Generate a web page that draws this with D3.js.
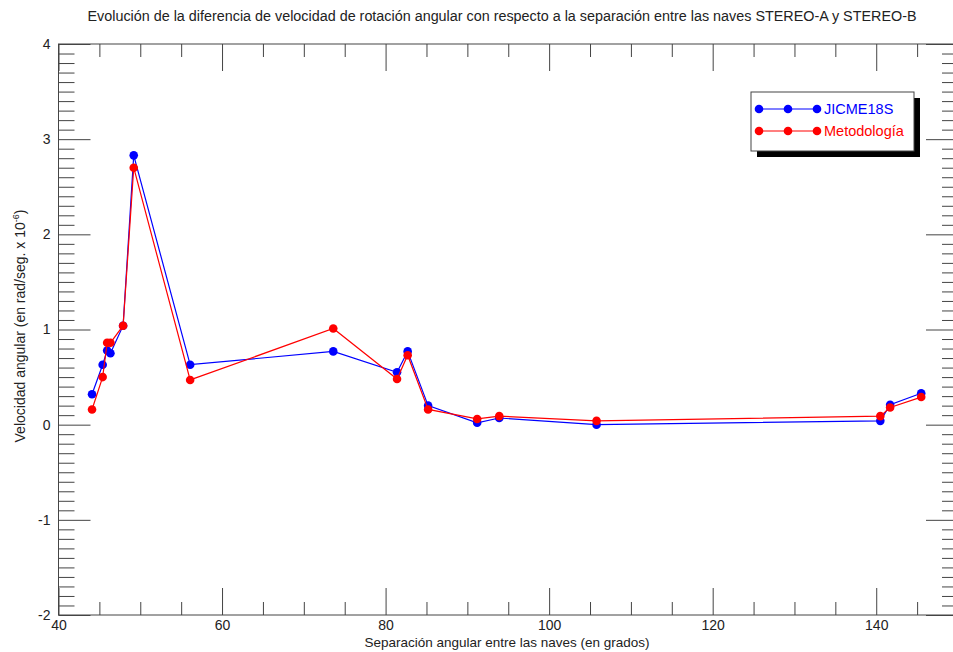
<!DOCTYPE html>
<html>
<head>
<meta charset="utf-8">
<script src="https://cdn.jsdelivr.net/npm/d3@7"></script>
<style>
  body { margin: 0; background: #fff; }
  svg { font-family: "Liberation Sans", Arial, Helvetica, sans-serif; }
</style>
</head>
<body>
<div id="chart"></div>
<script>
// separación angular (grados)
const separacion = [44.1, 45.4, 45.95, 46.35, 47.9, 49.2, 56.1, 73.6, 81.4, 82.7, 85.2, 91.2, 93.9, 105.8, 140.5, 141.7, 145.5];
// velocidad angular x 10^-6
const jicme18s   = [0.32, 0.63, 0.78, 0.75, 1.04, 2.83, 0.63, 0.77, 0.55, 0.77, 0.20, 0.02, 0.07, 0.00, 0.04, 0.21, 0.33];
const metodologia = [0.16, 0.50, 0.86, 0.86, 1.04, 2.70, 0.47, 1.01, 0.48, 0.73, 0.16, 0.06, 0.09, 0.04, 0.09, 0.18, 0.29];

const seriesNames = ["JICME18S", "Metodología"];
const seriesColors = ["#0000ff", "#ff0000"];
const xMajor = [40, 60, 80, 100, 120, 140];
const yMajor = [-2, -1, 0, 1, 2, 3, 4];

const width = 953, height = 652;
const margin = { top: 44, left: 58.5, right: -5, bottom: 37 };
const plotW = width - margin.left - margin.right;
const plotH = height - margin.top - margin.bottom;

const svg = d3.select("#chart").append("svg").attr("width", width).attr("height", height);

const x = d3.scaleLinear().domain([40, 150]).range([margin.left, margin.left + plotW]);
const y = d3.scaleLinear().domain([-2, 4]).range([margin.top + plotH, margin.top]);

const axisColor = "#444";
const xMinor = d3.range(40, 151, 5).filter(v => !xMajor.includes(v));
const yMinor = d3.range(-20, 41, 1).map(v => v / 10).filter(v => !yMajor.includes(v));
const plain = d => String(d);

function styleAxis(g) {
    g.select(".domain").remove();
    g.selectAll(".tick line").attr("stroke", axisColor).attr("stroke-width", 1);
    g.selectAll(".tick text").attr("fill", "#222").style("font-size", "14px");
}

// bottom
svg.append("g").attr("transform", `translate(0,${y(-2)})`)
    .call(d3.axisBottom(x).tickValues(xMajor).tickSizeInner(-27).tickSizeOuter(0).tickPadding(5).tickFormat(plain))
    .call(styleAxis);
svg.append("g").attr("transform", `translate(0,${y(-2)})`)
    .call(d3.axisBottom(x).tickValues(xMinor).tickSizeInner(-13).tickSizeOuter(0).tickFormat(""))
    .call(styleAxis);
// top
svg.append("g").attr("transform", `translate(0,${y(4)})`)
    .call(d3.axisTop(x).tickValues(xMajor).tickSizeInner(-27).tickSizeOuter(0).tickFormat(""))
    .call(styleAxis);
svg.append("g").attr("transform", `translate(0,${y(4)})`)
    .call(d3.axisTop(x).tickValues(xMinor).tickSizeInner(-13).tickSizeOuter(0).tickFormat(""))
    .call(styleAxis);
// left
svg.append("g").attr("transform", `translate(${x(40)},0)`)
    .call(d3.axisLeft(y).tickValues(yMajor).tickSizeInner(-32).tickSizeOuter(0).tickPadding(8).tickFormat(plain))
    .call(styleAxis);
svg.append("g").attr("transform", `translate(${x(40)},0)`)
    .call(d3.axisLeft(y).tickValues(yMinor).tickSizeInner(-16).tickSizeOuter(0).tickFormat(""))
    .call(styleAxis);
// right
svg.append("g").attr("transform", `translate(${x(150)},0)`)
    .call(d3.axisRight(y).tickValues(yMajor).tickSizeInner(-32).tickSizeOuter(0).tickFormat(""))
    .call(styleAxis);
svg.append("g").attr("transform", `translate(${x(150)},0)`)
    .call(d3.axisRight(y).tickValues(yMinor).tickSizeInner(-16).tickSizeOuter(0).tickFormat(""))
    .call(styleAxis);

// frame
svg.append("rect")
    .attr("x", x(40)).attr("y", y(4))
    .attr("width", x(150) - x(40)).attr("height", y(-2) - y(4))
    .attr("fill", "none").attr("stroke", axisColor).attr("stroke-width", 1);

// title
svg.append("text")
    .attr("x", 502).attr("y", 21)
    .attr("text-anchor", "middle")
    .attr("textLength", 829).attr("lengthAdjust", "spacingAndGlyphs")
    .style("font-size", "14px").attr("fill", "#222")
    .text("Evolución de la diferencia de velocidad de rotación angular con respecto a la separación entre las naves STEREO-A y STEREO-B");

// axis titles
svg.append("text")
    .attr("x", 507).attr("y", 647)
    .attr("text-anchor", "middle")
    .style("font-size", "13.5px").attr("fill", "#222")
    .text("Separación angular entre las naves (en grados)");

const yTitle = svg.append("text")
    .attr("transform", "translate(25,326) rotate(-90)")
    .attr("text-anchor", "middle")
    .style("font-size", "14px").attr("fill", "#222");
yTitle.append("tspan").text("Velocidad angular (en rad/seg. x 10");
yTitle.append("tspan").attr("dy", -6).style("font-size", "9px").text("-6");
yTitle.append("tspan").attr("dy", 6).text(")");

// series
const series = [jicme18s, metodologia];
const line = d3.line().x(d => x(d[0])).y(d => y(d[1]));

series.forEach((vals, i) => {
    const pts = separacion.map((s, j) => [s, vals[j]]);
    svg.append("path")
        .datum(pts)
        .attr("d", line)
        .attr("fill", "none")
        .attr("stroke", seriesColors[i])
        .attr("stroke-width", 1.2);
    svg.append("g").selectAll("circle")
        .data(pts)
        .join("circle")
        .attr("cx", d => x(d[0]))
        .attr("cy", d => y(d[1]))
        .attr("r", 4.3)
        .attr("fill", seriesColors[i]);
});

// legend
const lg = svg.append("g").attr("transform", "translate(751,92)");
lg.append("rect").attr("x", 6).attr("y", 6).attr("width", 163).attr("height", 59).attr("fill", "#000");
lg.append("rect").attr("x", 0).attr("y", 0).attr("width", 163).attr("height", 59)
    .attr("fill", "#fff").attr("stroke", "#444").attr("stroke-width", 1);

seriesNames.forEach((name, i) => {
    const ly = 17 + i * 22;
    lg.append("line").attr("x1", 8).attr("x2", 66).attr("y1", ly).attr("y2", ly)
        .attr("stroke", seriesColors[i]).attr("stroke-width", 1.2);
    lg.selectAll(null).data([8, 37, 66]).join("circle")
        .attr("cx", d => d).attr("cy", ly).attr("r", 4.3).attr("fill", seriesColors[i]);
    lg.append("text").attr("x", 73).attr("y", ly + 5)
        .style("font-size", "14.5px").attr("fill", seriesColors[i]).text(name);
});
</script>
</body>
</html>
